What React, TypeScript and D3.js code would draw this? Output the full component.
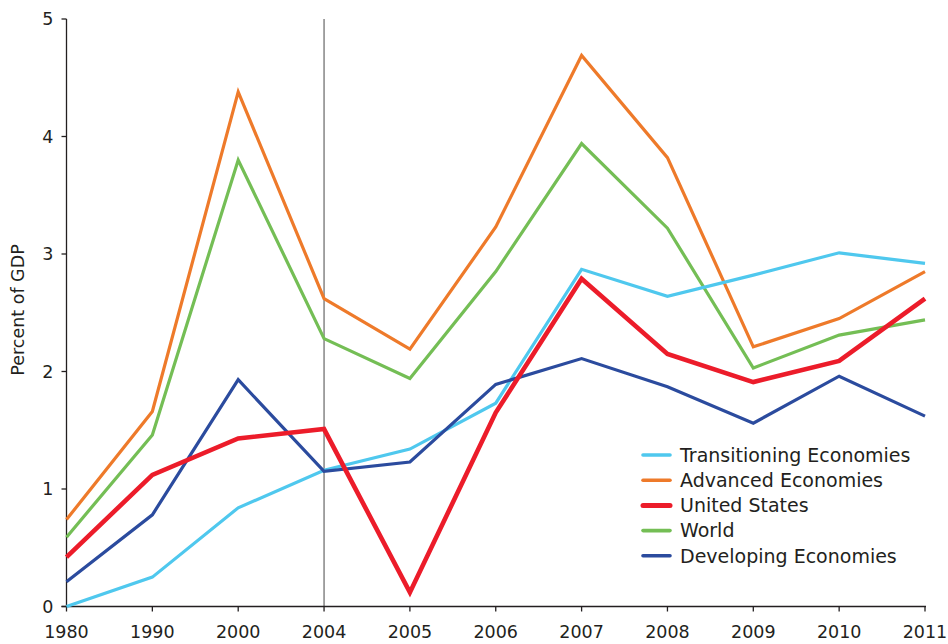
import React from "react";
import * as d3 from "d3";

const years = ["1980", "1990", "2000", "2004", "2005", "2006", "2007", "2008", "2009", "2010", "2011"];
const transitioning = [0, 0.25, 0.84, 1.16, 1.34, 1.73, 2.87, 2.64, 2.82, 3.01, 2.92];
const advanced = [0.74, 1.66, 4.38, 2.62, 2.19, 3.23, 4.69, 3.82, 2.21, 2.45, 2.85];
const unitedStates = [0.42, 1.12, 1.43, 1.51, 0.12, 1.65, 2.79, 2.15, 1.91, 2.09, 2.62];
const world = [0.59, 1.46, 3.8, 2.28, 1.94, 2.85, 3.94, 3.22, 2.03, 2.31, 2.44];
const developing = [0.21, 0.78, 1.93, 1.15, 1.23, 1.89, 2.11, 1.87, 1.56, 1.96, 1.62];
const yTicks = [0, 1, 2, 3, 4, 5];
const markerYear = "2004";

const series = [
  { name: "Transitioning Economies", values: transitioning, color: "#4FC8EE", width: 3.2 },
  { name: "Advanced Economies", values: advanced, color: "#EE7A2A", width: 3.2 },
  { name: "United States", values: unitedStates, color: "#EC1C2A", width: 4.6 },
  { name: "World", values: world, color: "#74BE55", width: 3.2 },
  { name: "Developing Economies", values: developing, color: "#2B4B9E", width: 3.2 },
];
const drawOrder = [3, 1, 0, 4, 2];

const W = 948;
const H = 644;
const left = 66.5;
const right = 925;
const top = 19;
const bottom = 606.5;
const font = "'DejaVu Sans', 'Liberation Sans', sans-serif";
const textColor = "#231F20";

export default function App() {
  const x = d3.scalePoint<string>().domain(years).range([left, right]);
  const y = d3.scaleLinear().domain([0, 5]).range([bottom, top]);
  const line = d3
    .line<number>()
    .x((_, i) => x(years[i]) as number)
    .y((d) => y(d));

  return (
    <svg width={W} height={H} style={{ position: "absolute", left: 0, top: 0, background: "#fff" }}>
      {/* vertical marker */}
      <line x1={x(markerYear)} x2={x(markerYear)} y1={y(5)} y2={y(0)} stroke="#666" strokeWidth={1.2} />
      {/* axes */}
      <line x1={left} x2={left} y1={y(5)} y2={y(0)} stroke="#231F20" strokeWidth={1.3} />
      <line x1={left - 5} x2={right + 1} y1={y(0)} y2={y(0)} stroke="#231F20" strokeWidth={1.3} />
      {yTicks.map((t) => (
        <g key={t}>
          <line x1={left - 5} x2={left} y1={y(t)} y2={y(t)} stroke="#231F20" strokeWidth={1.3} />
          <text x={left - 13} y={y(t)} dy="0.36em" textAnchor="end" fontFamily={font} fontSize={17.5} fill={textColor}>
            {t}
          </text>
        </g>
      ))}
      {years.map((yr) => (
        <g key={yr}>
          <line x1={x(yr)} x2={x(yr)} y1={y(0)} y2={y(0) + 5} stroke="#231F20" strokeWidth={1.3} />
          <text x={x(yr)} y={637.5} textAnchor="middle" fontFamily={font} fontSize={17.5} fill={textColor}>
            {yr}
          </text>
        </g>
      ))}
      <text
        transform={`translate(24, ${310}) rotate(-90)`}
        textAnchor="middle"
        fontFamily={font}
        fontSize={17.5}
        fill={textColor}
      >
        Percent of GDP
      </text>
      {/* lines */}
      {drawOrder.map((i) => {
        const s = series[i];
        return (
          <path
            key={s.name}
            d={line(s.values) || ""}
            fill="none"
            stroke={s.color}
            strokeWidth={s.width}
            strokeLinejoin="miter"
          />
        );
      })}
      {/* legend */}
      {series.map((s, i) => {
        const ly = 455 + i * 25.2;
        return (
          <g key={s.name}>
            <line x1={643} x2={670} y1={ly} y2={ly} stroke={s.color} strokeWidth={s.width + 0.4} strokeLinecap="round" />
            <text x={680} y={ly} dy="0.36em" fontFamily={font} fontSize={19} fill={textColor}>
              {s.name}
            </text>
          </g>
        );
      })}
    </svg>
  );
}
